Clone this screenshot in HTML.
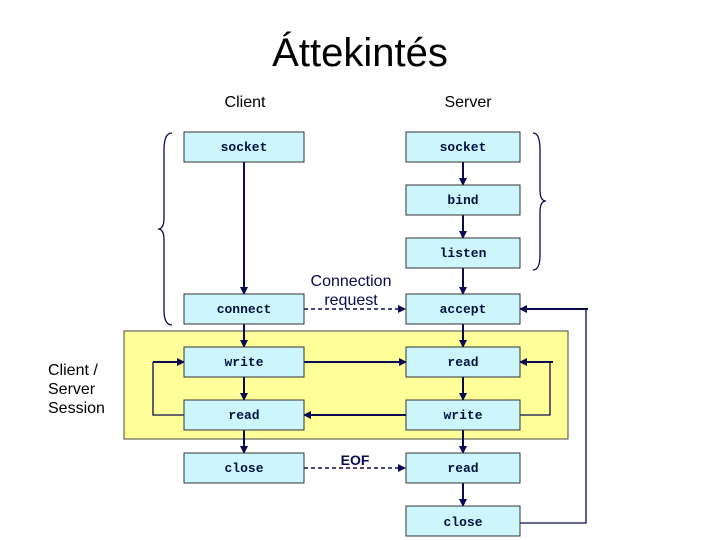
<!DOCTYPE html>
<html><head><meta charset="utf-8"><style>
body{margin:0;background:#fff;}
svg{display:block}
.b{fill:#ccf6fc;stroke:#333;stroke-width:1}
.m{font-family:"Liberation Mono",monospace;font-size:13px;font-weight:bold;fill:#001040;text-anchor:middle}
.s{font-family:"Liberation Sans",sans-serif;fill:#000}
.l{stroke:#0a0a50;stroke-width:2;fill:none}
.t{stroke:#0a0a50;stroke-width:1.3;fill:none}
</style></head><body>
<svg width="720" height="540" viewBox="0 0 720 540">
<defs><marker id="a" markerWidth="8" markerHeight="8" refX="7" refY="4" orient="auto" markerUnits="userSpaceOnUse"><path d="M0,0 L8,4 L0,8 z" fill="#0a0a50"/></marker></defs>
<text x="360" y="66" class="s" font-size="40" text-anchor="middle">Áttekintés</text>
<text x="245" y="107" class="s" font-size="16" text-anchor="middle">Client</text>
<text x="468" y="107" class="s" font-size="16" text-anchor="middle">Server</text>
<rect x="124" y="331" width="444" height="108" fill="#ffff99" stroke="#444" stroke-width="1"/>
<text class="s" font-size="16" x="48" y="375">Client /</text>
<text class="s" font-size="16" x="48" y="394">Server</text>
<text class="s" font-size="16" x="48" y="413">Session</text>
<path class="t" d="M172,133 Q164,133 164,150 L164,218 Q164,229 158,229 Q164,229 164,240 L164,310 Q164,325 172,325"/>
<path class="t" d="M533,133 Q540,133 540,150 L540,190 Q540,201 546,201 Q540,201 540,212 L540,255 Q540,270 533,270"/>
<!-- connectors -->
<line class="l" x1="244" y1="162" x2="244" y2="294" marker-end="url(#a)"/>
<line class="l" x1="463" y1="162" x2="463" y2="185" marker-end="url(#a)"/>
<line class="l" x1="463" y1="215" x2="463" y2="238" marker-end="url(#a)"/>
<line class="l" x1="463" y1="268" x2="463" y2="294" marker-end="url(#a)"/>
<line class="l" x1="244" y1="324" x2="244" y2="347" marker-end="url(#a)"/>
<line class="l" x1="463" y1="324" x2="463" y2="347" marker-end="url(#a)"/>
<line class="l" x1="244" y1="377" x2="244" y2="400" marker-end="url(#a)"/>
<line class="l" x1="463" y1="377" x2="463" y2="400" marker-end="url(#a)"/>
<line class="l" x1="244" y1="430" x2="244" y2="453" marker-end="url(#a)"/>
<line class="l" x1="463" y1="430" x2="463" y2="453" marker-end="url(#a)"/>
<line class="l" x1="463" y1="483" x2="463" y2="506" marker-end="url(#a)"/>
<line class="l" x1="304" y1="362" x2="406" y2="362" marker-end="url(#a)"/>
<line class="l" x1="406" y1="415" x2="304" y2="415" marker-end="url(#a)"/>
<line stroke="#0a0a50" stroke-width="1.5" stroke-dasharray="4,3" x1="304" y1="309" x2="400" y2="309"/>
<path d="M398,305 L406,309 L398,313z" fill="#0a0a50"/>
<line stroke="#0a0a50" stroke-width="1.5" stroke-dasharray="4,3" x1="304" y1="468" x2="400" y2="468"/>
<path d="M398,464 L406,468 L398,472z" fill="#0a0a50"/>
<path class="t" d="M184,415 L153,415 L153,362"/>
<line class="l" x1="153" y1="362" x2="184" y2="362" marker-end="url(#a)"/>
<path class="t" d="M520,415 L550,415 L550,362"/>
<line class="l" x1="553" y1="362" x2="520" y2="362" marker-end="url(#a)"/>
<path class="t" d="M520,523 L586,523 L586,309"/>
<line class="l" x1="588" y1="309" x2="520" y2="309" marker-end="url(#a)"/>
<!-- boxes -->
<rect class="b" x="184" y="132" width="120" height="30"/><text class="m" x="244" y="151">socket</text>
<rect class="b" x="406" y="132" width="114" height="30"/><text class="m" x="463" y="151">socket</text>
<rect class="b" x="406" y="185" width="114" height="30"/><text class="m" x="463" y="204">bind</text>
<rect class="b" x="406" y="238" width="114" height="30"/><text class="m" x="463" y="257">listen</text>
<rect class="b" x="184" y="294" width="120" height="30"/><text class="m" x="244" y="313">connect</text>
<rect class="b" x="406" y="294" width="114" height="30"/><text class="m" x="463" y="313">accept</text>
<rect class="b" x="184" y="347" width="120" height="30"/><text class="m" x="244" y="366">write</text>
<rect class="b" x="406" y="347" width="114" height="30"/><text class="m" x="463" y="366">read</text>
<rect class="b" x="184" y="400" width="120" height="30"/><text class="m" x="244" y="419">read</text>
<rect class="b" x="406" y="400" width="114" height="30"/><text class="m" x="463" y="419">write</text>
<rect class="b" x="184" y="453" width="120" height="30"/><text class="m" x="244" y="472">close</text>
<rect class="b" x="406" y="453" width="114" height="30"/><text class="m" x="463" y="472">read</text>
<rect class="b" x="406" y="506" width="114" height="30"/><text class="m" x="463" y="526">close</text>
<text class="s" font-size="16" fill="#0a0a50" x="351" y="286" text-anchor="middle" style="fill:#0a0a50">Connection</text>
<text class="s" font-size="16" x="351" y="305" text-anchor="middle" style="fill:#0a0a50">request</text>
<text class="s" font-size="14" x="355" y="465" text-anchor="middle" font-weight="bold" style="fill:#0a0a50">EOF</text>
</svg>
</body></html>
